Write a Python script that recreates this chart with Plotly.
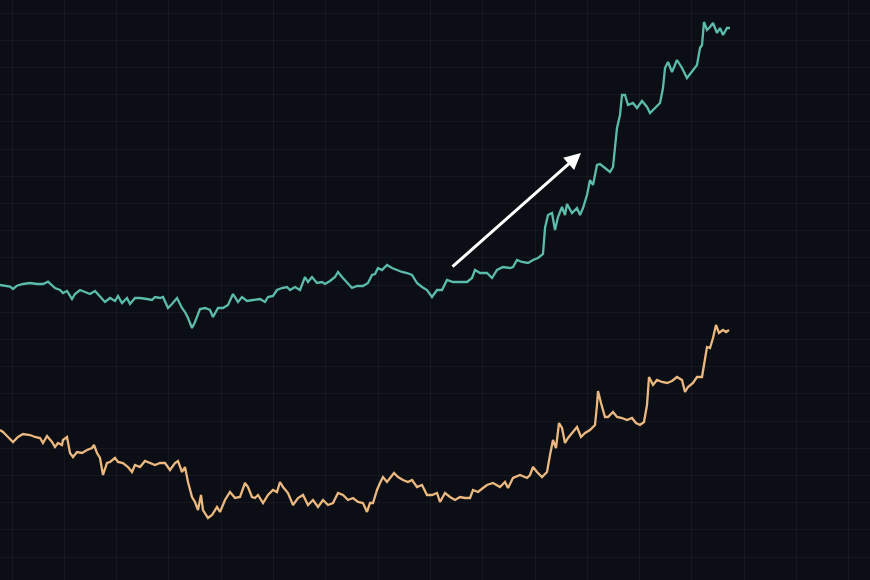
import plotly.graph_objects as go

# Day index and index values (arbitrary units)
teal_day = [0, 10, 13, 17, 23, 30, 37, 43, 48, 52, 55, 60, 63, 67, 72, 75, 80, 85, 90, 95,
            100, 105, 110, 115, 118, 122, 127, 130, 135, 140, 147, 152, 155, 160, 163, 168, 172, 177, 182, 185,
            188, 192, 195, 200, 205, 210, 213, 218, 223, 228, 233, 238, 242, 247, 253, 260, 265, 268, 273, 277,
            282, 287, 290, 295, 300, 305, 308, 312, 317, 322, 325, 330, 335, 338, 342, 347, 352, 357, 363, 368,
            372, 375, 378, 382, 387, 392, 397, 402, 407, 412, 417, 422, 427, 432, 437, 442, 447, 453, 460, 467,
            472, 475, 480, 487, 492, 497, 503, 510, 513, 517, 522, 528, 533, 538, 543, 545, 548, 552, 555, 558,
            562, 565, 567, 572, 577, 580, 583, 587, 590, 593, 597, 600, 605, 610, 613, 617, 620, 622, 625, 628,
            633, 637, 642, 647, 650, 655, 660, 663, 665, 668, 672, 677, 682, 687, 692, 697, 700, 702, 704, 707,
            710, 713, 717, 720, 723, 727, 730]
teal_val = [295, 293.3, 291, 294.3, 296, 297, 296, 296, 298.3, 294.3, 292, 290, 287, 289, 281, 286, 290, 288, 286, 289,
            283, 278, 282, 279, 284, 277, 282, 276, 282, 282, 281, 280, 283, 282, 283, 272, 276, 282, 272, 268,
            262, 252, 258, 271, 272, 270, 263, 272, 272, 275, 286, 278, 283, 279, 280, 281, 278, 283, 284, 290,
            292, 293, 290, 293, 290, 303, 298, 303, 297, 298, 296, 299, 303, 308, 303, 298, 292, 294, 294, 297,
            305, 306, 312, 310, 315, 312, 310, 308, 307, 305, 297, 293, 290, 283, 290, 290, 300, 298, 298, 298,
            302, 310, 307, 307, 302, 310, 313, 312, 313, 320, 318, 317, 320, 322, 326, 352, 365, 367, 350, 363,
            373, 365, 376, 367, 372, 365, 372, 385, 400, 395, 415, 416, 412, 408, 413, 452, 465, 485, 485, 475,
            477, 472, 479, 473, 467, 472, 477, 492, 512, 518, 508, 520, 512, 502, 508, 515, 532, 535, 558, 550,
            553, 557, 547, 552, 545, 552, 552]

orange_day = [0, 3, 8, 13, 18, 23, 30, 35, 40, 43, 47, 52, 55, 58, 62, 63, 67, 70, 73, 77,
              82, 87, 92, 94, 97, 100, 103, 107, 110, 115, 118, 123, 128, 132, 135, 140, 145, 150, 155, 160,
              165, 170, 175, 178, 182, 185, 188, 192, 195, 198, 201, 203, 208, 212, 217, 220, 225, 230, 235, 240,
              245, 248, 252, 255, 258, 263, 268, 273, 277, 280, 283, 288, 293, 298, 303, 308, 313, 318, 323, 328,
              333, 338, 343, 348, 353, 358, 363, 367, 370, 373, 377, 380, 383, 387, 390, 394, 398, 403, 408, 412,
              417, 422, 427, 432, 437, 440, 445, 450, 455, 460, 465, 470, 473, 478, 483, 487, 493, 500, 505, 508,
              513, 520, 527, 530, 533, 537, 542, 547, 550, 553, 556, 559, 562, 565, 568, 573, 577, 581, 585, 590,
              595, 597, 598, 601, 605, 608, 613, 617, 622, 627, 632, 636, 640, 644, 647, 649, 653, 657, 662, 667,
              672, 677, 682, 685, 688, 693, 697, 702, 705, 707, 710, 713, 716, 719, 723, 726, 729]
orange_val = [150, 148, 143, 138, 143, 146, 145, 143, 142, 137, 144, 138, 133, 137, 135, 140, 143, 127, 123, 128,
              127, 130, 132, 135, 127, 122, 105, 117, 118, 122, 118, 117, 113, 108, 115, 113, 119, 117, 115, 117,
              117, 110, 117, 119, 108, 113, 98, 83, 78, 70, 85, 70, 62, 65, 73, 68, 80, 88, 82, 83,
              97, 93, 83, 82, 85, 77, 85, 90, 88, 98, 93, 87, 75, 82, 85, 75, 80, 73, 80, 75,
              77, 87, 85, 80, 82, 78, 77, 68, 77, 77, 90, 97, 103, 98, 102, 107, 103, 100, 98, 100,
              93, 95, 85, 85, 87, 78, 87, 83, 80, 83, 82, 82, 90, 88, 92, 95, 97, 93, 98, 92,
              102, 105, 102, 105, 113, 108, 103, 108, 125, 140, 132, 157, 152, 137, 142, 148, 153, 143, 147, 150,
              155, 175, 189, 177, 163, 163, 168, 163, 162, 160, 162, 157, 155, 158, 175, 203, 195, 200, 198, 197,
              199, 203, 200, 188, 193, 197, 203, 203, 222, 233, 232, 242, 255, 247, 250, 248, 250]

# Arrow: start and end in data units
arrow_start = (451, 312)
arrow_end = (581, 427)

BG = "#0b0e14"
GRID = "rgba(255,255,255,0.045)"
TEAL = "#5bbcab"
ORANGE = "#ebb87f"

fig = go.Figure()
fig.add_trace(go.Scatter(x=teal_day, y=teal_val, mode="lines",
                         line=dict(color=TEAL, width=2.3), hoverinfo="skip", showlegend=False))
fig.add_trace(go.Scatter(x=orange_day, y=orange_val, mode="lines",
                         line=dict(color=ORANGE, width=2.3), hoverinfo="skip", showlegend=False))

fig.add_annotation(x=arrow_end[0], y=arrow_end[1], ax=arrow_start[0], ay=arrow_start[1],
                   xref="x", yref="y", axref="x", ayref="y", text="",
                   showarrow=True, arrowhead=2, arrowsize=1.1, arrowwidth=3,
                   arrowcolor="#ffffff", standoff=0, startstandoff=0)

fig.update_layout(
    width=870, height=580,
    margin=dict(l=0, r=0, t=0, b=0),
    paper_bgcolor=BG, plot_bgcolor=BG,
    showlegend=False,
)
fig.update_xaxes(range=[0, 870], showgrid=True, gridcolor=GRID, gridwidth=1,
                 tick0=12, dtick=52.3, showticklabels=False, zeroline=False,
                 showline=False, ticks="")
fig.update_yaxes(range=[0, 580], showgrid=True, gridcolor=GRID, gridwidth=1,
                 tick0=23, dtick=27.2, showticklabels=False, zeroline=False,
                 showline=False, ticks="")

fig.write_html(
    "out.html",
    config={"displayModeBar": False},
    post_script="document.body.style.margin='0';document.body.style.background='#0b0e14';document.body.style.overflow='hidden';",
)
